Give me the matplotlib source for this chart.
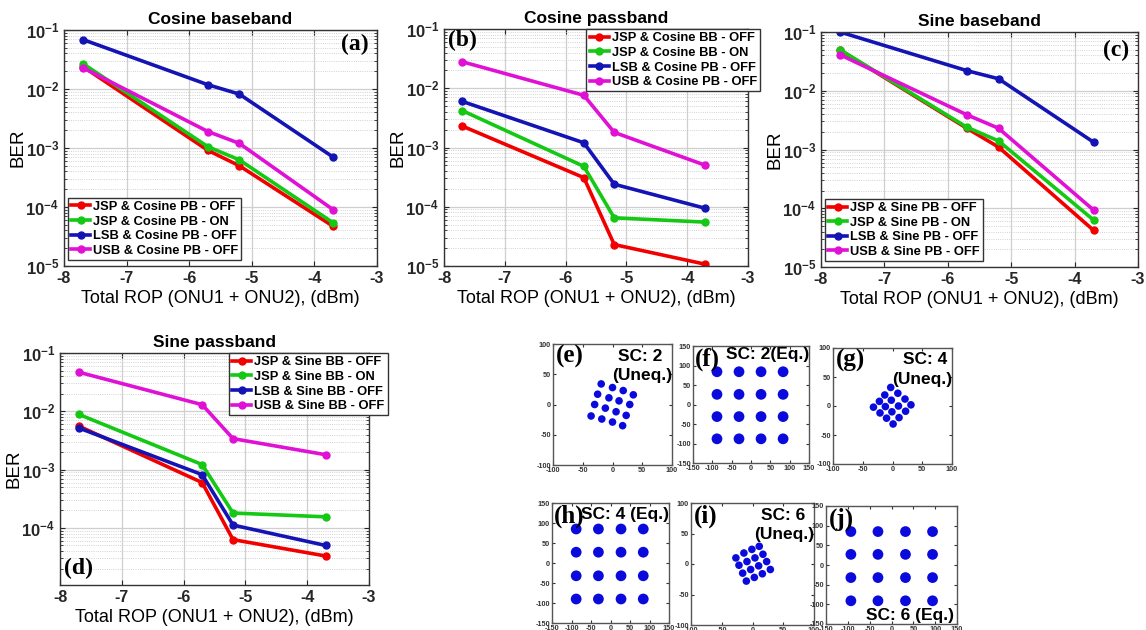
import matplotlib
matplotlib.use("Agg")
import matplotlib.pyplot as plt
import numpy as np

plt.rcParams["font.family"] = ["Liberation Sans", "DejaVu Sans"]
plt.rcParams["font.weight"] = "bold"
plt.rcParams["axes.unicode_minus"] = False
plt.rcParams["mathtext.fontset"] = "custom"
plt.rcParams["mathtext.rm"] = "Liberation Sans:bold"
plt.rcParams["mathtext.bf"] = "Liberation Sans:bold"

# ---- BER data ----
rop = [-7.7, -5.7, -5.2, -3.7]

cos_bb_labels = ["JSP & Cosine PB - OFF", "JSP & Cosine PB - ON",
                 "LSB & Cosine PB - OFF", "USB & Cosine PB - OFF"]
cos_bb = [
    [2.4e-2, 9.1e-4, 5.0e-4, 4.7e-5],
    [2.7e-2, 1.05e-3, 6.3e-4, 5.4e-5],
    [6.9e-2, 1.18e-2, 8.2e-3, 7.0e-4],
    [2.3e-2, 1.9e-3, 1.2e-3, 9.0e-5],
]

cos_pb_labels = ["JSP & Cosine BB - OFF", "JSP & Cosine BB - ON",
                 "LSB & Cosine PB - OFF", "USB & Cosine PB - OFF"]
cos_pb = [
    [2.3e-3, 3.1e-4, 2.3e-5, 1.07e-5],
    [4.2e-3, 4.8e-4, 6.5e-5, 5.5e-5],
    [6.0e-3, 1.2e-3, 2.4e-4, 9.4e-5],
    [2.8e-2, 7.6e-3, 1.8e-3, 5.0e-4],
]

sin_bb_labels = ["JSP & Sine PB - OFF", "JSP & Sine PB - ON",
                 "LSB & Sine PB - OFF", "USB & Sine PB - OFF"]
sin_bb = [
    [4.9e-2, 2.3e-3, 1.1e-3, 4.2e-5],
    [5.0e-2, 2.4e-3, 1.4e-3, 6.3e-5],
    [1.0e-1, 2.2e-2, 1.6e-2, 1.33e-3],
    [4.1e-2, 3.9e-3, 2.3e-3, 9.3e-5],
]

sin_pb_labels = ["JSP & Sine BB - OFF", "JSP & Sine BB - ON",
                 "LSB & Sine BB - OFF", "USB & Sine BB - OFF"]
sin_pb = [
    [5.6e-3, 6.0e-4, 6.3e-5, 3.3e-5],
    [8.9e-3, 1.22e-3, 1.8e-4, 1.55e-4],
    [5.2e-3, 8.2e-4, 1.12e-4, 5.0e-5],
    [4.7e-2, 1.3e-2, 3.4e-3, 1.8e-3],
]

colors = ["#f20000", "#14c814", "#1414b4", "#e010d4"]

# ---- constellation centroids ----
e_i = [-19, 0, 18, 35, -25, -6, 11, 29, -30, -12, 6, 23, -36, -18, 0, 17]
e_q = [34, 28, 23, 16, 17, 11, 6, 0, 0, -6, -12, -18, -19, -24, -29, -35]
g_i = [-3, 9, 21, 31, -13, -2, 10, 22, -22, -12, -1, 11, -32, -21, -10, 1]
g_q = [32, 22, 12, 2, 19, 10, 0, -9, 8, -1, -10, -20, -2, -12, -21, -31]
i_i = [-27, -14, -1, 11, -22, -9, 4, 17, -16, -3, 10, 23, -10, 3, 16, 29]
i_q = [10, 18, 24, 29, -2, 4, 10, 16, -15, -9, -3, 4, -28, -22, -16, -9]
f_cols = [-88, -31, 26, 83]
f_rows = [84, 26, -31, -88]
h_cols = [-88, -31, 27, 84]
h_rows = [85, 27, -32, -90]
j_cols = [-93, -31, 32, 94]
j_rows = [85, 27, -32, -91]

W, H = 1146, 630
fig = plt.figure(figsize=(W / 100, H / 100), dpi=100)


def px_axes(x0, y0, x1, y1):
    return fig.add_axes([x0 / W, 1 - y1 / H, (x1 - x0) / W, (y1 - y0) / H])


def ber_panel(box, title, labels, series, legend_loc, legend_anchor, tag, tag_xy,
              show_min_label=True):
    ax = px_axes(*box)
    for lab, vals, c in zip(labels, series, colors):
        ax.semilogy(rop, vals, "-o", color=c, lw=2.6, ms=5, label=lab)
    ax.set_xlim(-8, -3)
    if show_min_label:
        ax.set_ylim(1e-5, 1e-1)
        yt = [1e-5, 1e-4, 1e-3, 1e-2, 1e-1]
    else:
        ax.set_ylim(1.05e-5, 1e-1)
        yt = [1e-4, 1e-3, 1e-2, 1e-1]
    ax.set_yticks(yt)
    ax.set_yticklabels([r"$\mathbf{10^{%d}}$" % int(np.log10(v)) for v in yt])
    ax.set_xticks(range(-8, -2))
    ax.tick_params(axis="both", which="both", direction="in", top=True,
                   right=True, colors="#262626")
    ax.tick_params(axis="y", labelsize=12)
    ax.tick_params(axis="x", labelsize=11.5)
    ax.tick_params(axis="y", which="minor", labelleft=False)
    ax.grid(True, which="major", color="#cfcfcf", lw=0.9)
    ax.grid(True, which="minor", axis="y", color="#c4c4c4", lw=0.6, ls=":")
    for s in ax.spines.values():
        s.set_color("#333333")
        s.set_linewidth(1.0)
    ax.set_title(title, fontsize=12.5, fontweight="bold", pad=4)
    ax.set_xlabel("Total ROP (ONU1 + ONU2), (dBm)", fontsize=13, labelpad=3)
    ax.set_ylabel("BER", fontsize=13.5, labelpad=-1)
    leg = ax.legend(loc=legend_loc, bbox_to_anchor=legend_anchor, fontsize=9.3,
                    frameon=True, fancybox=False, framealpha=1,
                    edgecolor="#333333", borderpad=0.25, labelspacing=0.2,
                    handlelength=1.5, handletextpad=0.2, borderaxespad=0.0)
    leg.get_frame().set_linewidth(1.0)
    ax.text(tag_xy[0], tag_xy[1], tag, transform=ax.transAxes,
            family="Liberation Serif", fontsize=17, fontweight="bold",
            ha="center", va="center")
    return ax


ber_panel((64, 30, 377, 266), "Cosine baseband", cos_bb_labels, cos_bb,
          "lower left", (0.012, 0.025), "(a)", (0.93, 0.94))
ber_panel((444, 29, 748, 266), "Cosine passband", cos_pb_labels, cos_pb,
          "upper right", (1.04, 1.0), "(b)", (0.06, 0.95))
ber_panel((821, 32, 1138, 267), "Sine baseband", sin_bb_labels, sin_bb,
          "lower left", (0.012, 0.025), "(c)", (0.93, 0.92))
ber_panel((60, 353, 369, 585), "Sine passband", sin_pb_labels, sin_pb,
          "upper right", (1.06, 1.0), "(d)", (0.06, 0.07), show_min_label=False)


def const_panel(box, xs, ys, lim, step, size, tag, sc_lines, sc_pos):
    ax = px_axes(*box)
    ax.scatter(xs, ys, s=size, color="#0a0adc", edgecolors="none")
    ax.set_xlim(-lim, lim)
    ax.set_ylim(-lim, lim)
    t = np.arange(-lim, lim + 1, step)
    ax.set_xticks(t)
    ax.set_yticks(t)
    ax.tick_params(direction="in", labelsize=5.2, length=2, pad=1.5,
                   top=True, right=True, colors="#333333")
    for s in ax.spines.values():
        s.set_color("#555555")
        s.set_linewidth(1.0)
    ax.text(0.02, 0.99, tag, transform=ax.transAxes, family="Liberation Serif",
            fontsize=18, fontweight="bold", ha="left", va="top")
    for (txt, x, y) in zip(sc_lines, sc_pos[0::2], sc_pos[1::2]):
        ax.text(x, y, txt, transform=ax.transAxes, fontsize=12.5,
                fontweight="bold", ha="right", va="center")
    return ax


def grid_pts(cols, rows):
    xs = [c for r in rows for c in cols]
    ys = [r for r in rows for c in cols]
    return xs, ys


const_panel((553, 344, 672, 465), e_i, e_q, 100, 50, 30, "(e)",
            ["SC: 2", "(Uneq.)"], [0.92, 0.9, 1.0, 0.74])
fx, fy = grid_pts(f_cols, f_rows)
const_panel((693, 346, 809, 463), fx, fy, 150, 50, 60, "(f)",
            ["SC: 2(Eq.)"], [1.0, 0.93])
const_panel((833, 348, 952, 464), g_i, g_q, 100, 50, 30, "(g)",
            ["SC: 4", "(Uneq.)"], [0.96, 0.9, 1.0, 0.73])
hx, hy = grid_pts(h_cols, h_rows)
const_panel((552, 503, 669, 623), hx, hy, 150, 50, 60, "(h)",
            ["SC: 4 (Eq.)"], [1.0, 0.9])
const_panel((691, 503, 814, 625), i_i, i_q, 100, 50, 30, "(i)",
            ["SC: 6", "(Uneq.)"], [0.93, 0.9, 1.0, 0.74])
jx, jy = grid_pts(j_cols, j_rows)
const_panel((826, 506, 957, 624), jx, jy, 150, 50, 60, "(j)",
            ["SC: 6 (Eq.)"], [0.98, 0.07])

fig.savefig("out.png", dpi=100)
